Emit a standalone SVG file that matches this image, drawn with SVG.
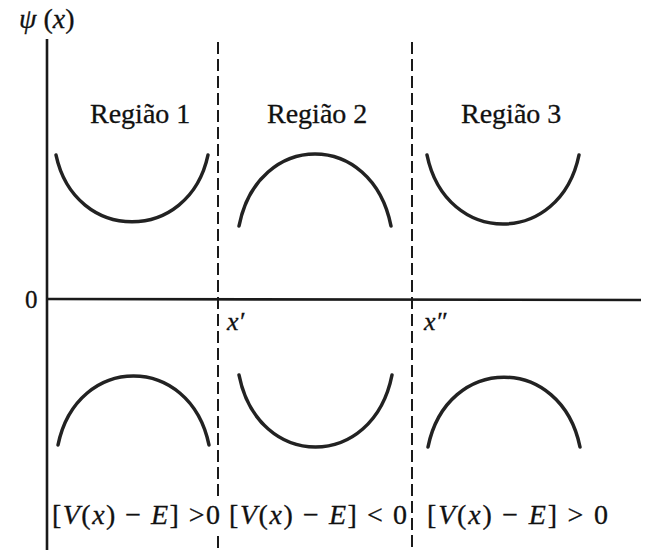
<svg xmlns="http://www.w3.org/2000/svg" width="648" height="550" viewBox="0 0 648 550">
<style>
.axis{stroke:#1a1a1a;stroke-width:2.6;fill:none}
.dash{stroke:#1a1a1a;stroke-width:2;fill:none;stroke-dasharray:12 5}
.curve{stroke:#222;stroke-width:3.5;fill:none;stroke-linecap:round}
text{font-family:"Liberation Serif","Times New Roman",serif;fill:#111;stroke:#111;stroke-width:0.3}
.lbl{font-size:28px}
.it{font-style:italic}
</style>
<rect width="648" height="550" fill="#fff"/>
<g id="axes">
<line class="axis" x1="47" y1="39" x2="47" y2="550"/>
<line class="axis" x1="47" y1="299" x2="641" y2="300"/>
<text x="19" y="28" font-size="28"><tspan class="it">ψ</tspan> (<tspan class="it">x</tspan>)</text>
<text x="25" y="308" font-size="25">0</text>
</g>
<g id="boundaries">
<line class="dash" x1="218" y1="42" x2="218" y2="500"/>
<line class="dash" x1="218" y1="536" x2="218" y2="550"/>
<line class="dash" x1="412" y1="42" x2="412" y2="550"/>
<text class="it" x="227" y="330" font-size="26">x′</text>
<text class="it" x="424" y="330" font-size="26">x″</text>
</g>
<g id="region1">
<text class="lbl" x="90" y="123">Região 1</text>
<path class="curve" d="M56,155 C75,244 189,244 208,155"/>
<path class="curve" d="M58,445 C77,353 190,353 209,445"/>
<text class="lbl" x="52" y="524" textLength="168" lengthAdjust="spacing">[<tspan class="it">V</tspan>(<tspan class="it">x</tspan>) − <tspan class="it">E</tspan>] &gt;0</text>
</g>
<g id="region2">
<text class="lbl" x="267" y="123">Região 2</text>
<path class="curve" d="M239,226 C258,130 372,130 391,226"/>
<path class="curve" d="M239,375 C258,471 373,471 392,375"/>
<text class="lbl" x="229" y="524" textLength="178" lengthAdjust="spacing">[<tspan class="it">V</tspan>(<tspan class="it">x</tspan>) − <tspan class="it">E</tspan>] &lt; 0</text>
</g>
<g id="region3">
<text class="lbl" x="461" y="123">Região 3</text>
<path class="curve" d="M427,155 C446,247 560,247 579,155"/>
<path class="curve" d="M428,447 C447,354 561,354 580,447"/>
<text class="lbl" x="427" y="524" textLength="181" lengthAdjust="spacing">[<tspan class="it">V</tspan>(<tspan class="it">x</tspan>) − <tspan class="it">E</tspan>] &gt; 0</text>
</g>
</svg>
